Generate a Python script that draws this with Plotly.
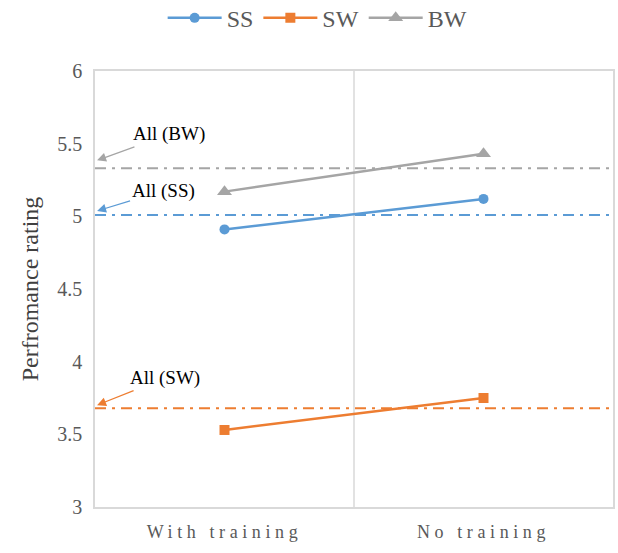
import plotly.graph_objects as go

categories = ["With training", "No training"]
ss = [4.91, 5.12]
sw = [3.53, 3.75]
bw = [5.17, 5.43]
all_ss = 5.01
all_sw = 3.68
all_bw = 5.33
y_ticks = [3, 3.5, 4, 4.5, 5, 5.5, 6]
y_tick_text = ["3", "3.5", "4", "4.5", "5", "5.5", "6"]

C_SS = "#5B9BD5"
C_SW = "#ED7D31"
C_BW = "#A5A5A5"
FONT = "Liberation Serif"

xpos = list(range(len(categories)))
x_lo, x_hi = -0.5, len(categories) - 0.5

fig = go.Figure()
series = [("SS", ss, C_SS, "circle", 10), ("SW", sw, C_SW, "square", 10), ("BW", bw, C_BW, "triangle-up", 13)]
for name, vals, col, sym, ms in series:
    fig.add_trace(go.Scatter(x=xpos, y=vals, name=name, mode="lines+markers",
                             line=dict(color=col, width=2.5),
                             marker=dict(symbol=sym, size=ms, color=col)))

dash = "11px,6px,3px,6px"
for val, col in [(all_bw, C_BW), (all_ss, C_SS), (all_sw, C_SW)]:
    fig.add_trace(go.Scatter(x=[x_lo, x_hi], y=[val, val], mode="lines", showlegend=False,
                             line=dict(color=col, width=2, dash=dash), hoverinfo="skip"))

fig.add_shape(type="line", x0=0.5, x1=0.5, y0=0, y1=1, xref="x", yref="paper",
              line=dict(color="#D9D9D9", width=1.5), layer="below")

ann = [("All (BW)", all_bw, C_BW, 72, -26, 8), ("All (SS)", all_ss, C_SS, 66, -20, 4),
       ("All (SW)", all_sw, C_SW, 68, -27, 3)]
for txt, val, col, ax, ay, ys in ann:
    fig.add_annotation(x=x_lo + 0.008, y=val, yshift=ys, text=txt, showarrow=True,
                       ax=ax, ay=ay, arrowhead=2, arrowsize=1.5, arrowwidth=1.2,
                       arrowcolor=col, font=dict(family=FONT, size=19, color="#000000"))

fig.update_layout(
    width=618, height=553,
    margin=dict(l=95, r=5, t=71, b=46, autoexpand=False),
    plot_bgcolor="white", paper_bgcolor="white",
    font=dict(family=FONT, color="#595959"),
    legend=dict(orientation="h", x=0.514, xanchor="center", xref="container",
                y=0.967, yanchor="middle", yref="container",
                font=dict(family=FONT, size=24, color="#595959"), itemwidth=54,
                traceorder="normal"),
    xaxis=dict(range=[x_lo, x_hi], tickvals=xpos, ticktext=categories, showgrid=False,
               zeroline=False, showline=True, mirror=True, linecolor="#D9D9D9", linewidth=1.5,
               tickfont=dict(family=FONT, size=18, color="#595959"), ticks="",
               ticklabelstandoff=8),
    yaxis=dict(range=[3, 6], tickvals=y_ticks, ticktext=y_tick_text, showgrid=False,
               zeroline=False, showline=True, mirror=True, linecolor="#D9D9D9", linewidth=1.5,
               tickfont=dict(family=FONT, size=20, color="#595959"),
               ticks="outside", ticklen=7, tickcolor="rgba(0,0,0,0)",
               title=dict(text="Perfromance rating", font=dict(family=FONT, size=24, color="#404040"),
                          standoff=12)),
)

post = "document.querySelectorAll('.xtick text').forEach(function(t){t.style.letterSpacing='4.6px';});"
fig.write_html("out.html", post_script=post)
